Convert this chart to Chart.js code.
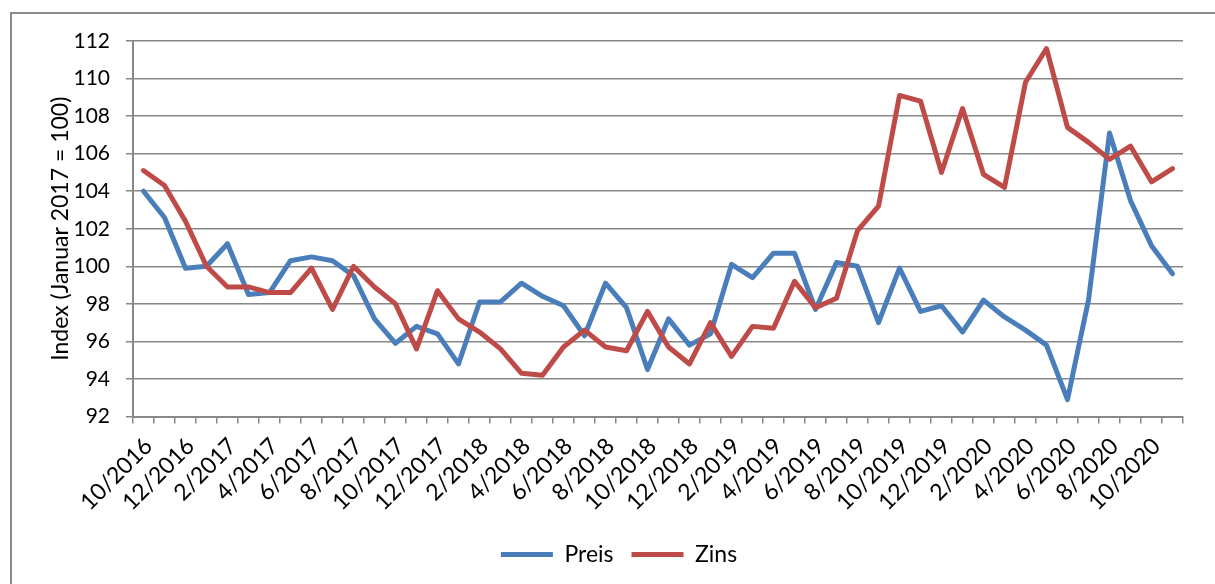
<!DOCTYPE html>
<html lang="de">
<head>
    <meta charset="UTF-8">
    <title>Preis und Zins</title>
    <script src="https://cdn.jsdelivr.net/npm/chart.js@4.4.0/dist/chart.umd.min.js"></script>
    <style>
        body { margin: 0; width: 1215px; height: 584px; overflow: hidden; background: #fff; position: relative; }
        #frame { position: absolute; left: 10px; top: 12px; width: 1300px; height: 700px; border-left: 2px solid #8a8a8a; border-top: 2px solid #8a8a8a; }
        #chart { position: absolute; left: 0; top: 0; }
    </style>
</head>
<body>
    <div id="frame"></div>
    <canvas id="chart" width="1215" height="584"></canvas>
    <script>
        const months = [
            '10/2016', '11/2016', '12/2016',
            '1/2017', '2/2017', '3/2017', '4/2017', '5/2017', '6/2017', '7/2017', '8/2017', '9/2017', '10/2017', '11/2017', '12/2017',
            '1/2018', '2/2018', '3/2018', '4/2018', '5/2018', '6/2018', '7/2018', '8/2018', '9/2018', '10/2018', '11/2018', '12/2018',
            '1/2019', '2/2019', '3/2019', '4/2019', '5/2019', '6/2019', '7/2019', '8/2019', '9/2019', '10/2019', '11/2019', '12/2019',
            '1/2020', '2/2020', '3/2020', '4/2020', '5/2020', '6/2020', '7/2020', '8/2020', '9/2020', '10/2020', '11/2020'
        ];
        const preis = [
            104.0, 102.6, 99.9,
            100.0, 101.2, 98.5, 98.6, 100.3, 100.5, 100.3, 99.5, 97.2, 95.9, 96.8, 96.4,
            94.8, 98.1, 98.1, 99.1, 98.4, 97.9, 96.3, 99.1, 97.8, 94.5, 97.2, 95.8,
            96.4, 100.1, 99.4, 100.7, 100.7, 97.7, 100.2, 100.0, 97.0, 99.9, 97.6, 97.9,
            96.5, 98.2, 97.3, 96.6, 95.8, 92.9, 98.2, 107.1, 103.5, 101.1, 99.6
        ];
        const zins = [
            105.1, 104.3, 102.4,
            100.0, 98.9, 98.9, 98.6, 98.6, 99.9, 97.7, 100.0, 98.9, 98.0, 95.6, 98.7,
            97.2, 96.5, 95.6, 94.3, 94.2, 95.7, 96.6, 95.7, 95.5, 97.6, 95.7, 94.8,
            97.0, 95.2, 96.8, 96.7, 99.2, 97.8, 98.3, 101.9, 103.2, 109.1, 108.8, 105.0,
            108.4, 104.9, 104.2, 109.8, 111.6, 107.4, 106.6, 105.7, 106.4, 104.5, 105.2
        ];
        const yTicks = { min: 92, max: 112, step: 2 };

        const gridGray = '#878787';
        const textFont = { family: 'Lato', size: 23 };
        const numFont = { family: 'Lato', size: 21 };

        // nudge the legend a little to the right, like the original
        const legendShift = {
            id: 'legendShift',
            afterLayout(chart) {
                chart.legend.left += 6;
                chart.legend.right += 6;
            }
        };

        new Chart(document.getElementById('chart'), {
            type: 'line',
            data: {
                labels: months,
                datasets: [
                    { label: 'Preis', data: preis, borderColor: '#4A7EBB', backgroundColor: '#4A7EBB', borderWidth: 5, order: 1 },
                    { label: 'Zins', data: zins, borderColor: '#BE4B48', backgroundColor: '#BE4B48', borderWidth: 5, order: 0 }
                ]
            },
            plugins: [legendShift],
            options: {
                responsive: false,
                animation: false,
                layout: { padding: { left: 43, right: 32, top: 41, bottom: 8 } },
                elements: {
                    line: { tension: 0, borderJoinStyle: 'round', borderCapStyle: 'round' },
                    point: { radius: 0, hoverRadius: 0 }
                },
                plugins: {
                    tooltip: { enabled: false },
                    legend: {
                        position: 'bottom',
                        labels: {
                            usePointStyle: true,
                            pointStyle: 'line',
                            pointStyleWidth: 52,
                            padding: 18,
                            color: '#000',
                            font: textFont,
                            sort: (a, b) => a.datasetIndex - b.datasetIndex
                        }
                    }
                },
                scales: {
                    x: {
                        offset: true,
                        grid: { offset: true, drawOnChartArea: false, drawTicks: true, tickLength: 7, color: gridGray, lineWidth: 1.5 },
                        border: { color: gridGray, width: 2 },
                        ticks: {
                            autoSkip: false,
                            minRotation: 45,
                            maxRotation: 45,
                            padding: 9,
                            labelOffset: 5,
                            color: '#000',
                            font: textFont,
                            callback: function (value, index) {
                                return index % 2 === 0 ? months[index] : '';
                            }
                        },
                        afterFit: (scale) => { scale.height = 108.5; }
                    },
                    y: {
                        min: yTicks.min,
                        max: yTicks.max,
                        grid: { color: gridGray, lineWidth: 1.5, tickLength: 7 },
                        border: { color: gridGray, width: 2 },
                        ticks: { stepSize: yTicks.step, padding: 16, color: '#000', font: numFont },
                        title: { display: true, text: 'Index (Januar 2017 = 100)', color: '#000', font: textFont },
                        afterFit: (scale) => { scale.width = 90; }
                    }
                }
            }
        });
    </script>
</body>
</html>
